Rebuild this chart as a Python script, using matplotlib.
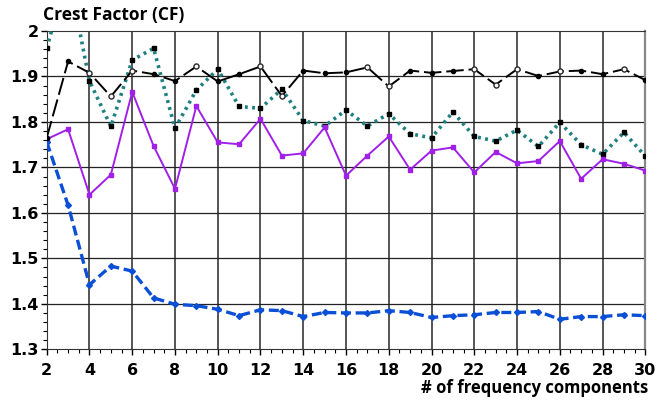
import matplotlib
matplotlib.use("Agg")
import matplotlib.pyplot as plt
from matplotlib.ticker import MultipleLocator, FuncFormatter

plt.rcParams.update({"font.family": ["DejaVu Sans"], "font.weight": "bold"})

n_freq = list(range(2, 31))
cf_black = [1.765, 1.933, 1.908, 1.856, 1.913, 1.905, 1.890, 1.922, 1.889, 1.905,
            1.922, 1.857, 1.913, 1.907, 1.909, 1.920, 1.878, 1.913, 1.908, 1.912,
            1.916, 1.882, 1.916, 1.901, 1.911, 1.913, 1.905, 1.916, 1.892]
cf_teal = [1.962, 2.13, 1.890, 1.790, 1.936, 1.962, 1.786, 1.870, 1.916, 1.834,
           1.830, 1.872, 1.803, 1.791, 1.826, 1.791, 1.818, 1.774, 1.765, 1.822,
           1.768, 1.758, 1.782, 1.746, 1.799, 1.750, 1.729, 1.777, 1.725]
cf_purple = [1.762, 1.784, 1.640, 1.684, 1.866, 1.747, 1.653, 1.835, 1.755, 1.751,
             1.807, 1.726, 1.731, 1.788, 1.682, 1.726, 1.768, 1.695, 1.737, 1.744,
             1.689, 1.734, 1.709, 1.714, 1.758, 1.675, 1.718, 1.708, 1.693]
cf_blue = [1.756, 1.617, 1.442, 1.483, 1.472, 1.413, 1.399, 1.396, 1.388, 1.374,
           1.387, 1.385, 1.372, 1.381, 1.380, 1.380, 1.385, 1.381, 1.370, 1.374,
           1.376, 1.381, 1.381, 1.383, 1.366, 1.372, 1.372, 1.376, 1.374]
# black-series points drawn as open circles
open_idx = [2, 3, 4, 7, 10, 11, 15, 16, 20, 21, 22, 24, 27]

fig = plt.figure(figsize=(6.57, 4.01), dpi=100)
ax = fig.add_axes([0.0711, 0.1289, 0.9111, 0.7938])

# grid
for v in range(4, 30, 2):
    ax.axvline(v, color="#555555", lw=1.4, zorder=1)
for h in [1.4, 1.5, 1.6, 1.7, 1.8, 1.9]:
    ax.axhline(h, color="#222222", lw=0.9, zorder=1)

ax.plot(n_freq, cf_teal, color="#1f8080", lw=2.6, ls=(0, (0.8, 1.2)),
        marker="s", ms=2.8, mfc="black", mec="black", zorder=3)
ax.plot(n_freq, cf_purple, color="#a020e8", lw=1.4, marker="s", ms=3.0,
        mfc="#a020e8", mec="#a020e8", zorder=4)
ax.plot(n_freq, cf_blue, color="#0a4fd6", lw=2.4, ls=(0, (3.0, 1.4)),
        marker="D", ms=3.0, mfc="#0a4fd6", mec="#0a4fd6", zorder=4)
ax.plot(n_freq, cf_black, color="black", lw=1.4, ls=(0, (9, 2.5)),
        marker="o", ms=3.0, mfc="black", mec="black", zorder=5)
ax.plot([n_freq[i] for i in open_idx], [cf_black[i] for i in open_idx], ls="none",
        marker="o", ms=3.6, mfc="white", mec="#333333", mew=1.0, zorder=6)

ax.set_xlim(2, 30)
ax.set_ylim(1.3, 2.0)
ax.xaxis.set_major_locator(MultipleLocator(2))
ax.xaxis.set_minor_locator(MultipleLocator(0.5))
ax.yaxis.set_major_locator(MultipleLocator(0.1))
ax.yaxis.set_minor_locator(MultipleLocator(0.02))
ax.yaxis.set_major_formatter(FuncFormatter(lambda v, p: f"{v:g}"))
ax.tick_params(axis="both", which="major", labelsize=11.5, length=4, width=1.0,
               colors="black", pad=2)
ax.tick_params(axis="both", which="minor", length=3, width=0.8)
ax.tick_params(axis="x", pad=6)
for lab in ax.get_xticklabels() + ax.get_yticklabels():
    lab.set_fontweight("bold")
for s in ["left", "bottom", "top"]:
    ax.spines[s].set_color("#333333")
ax.spines["right"].set_color("#888888")
ax.spines["right"].set_linewidth(1.6)

fig.text(0.066, 0.963, "Crest Factor (CF)", fontsize=12.5, fontweight="bold",
         family=["Open Sans", "DejaVu Sans"], ha="left", va="center")
fig.text(0.987, 0.033, "# of frequency components", fontsize=12, fontweight="bold",
         family=["Open Sans", "DejaVu Sans"], ha="right", va="center")

fig.savefig("out.png", dpi=100)
